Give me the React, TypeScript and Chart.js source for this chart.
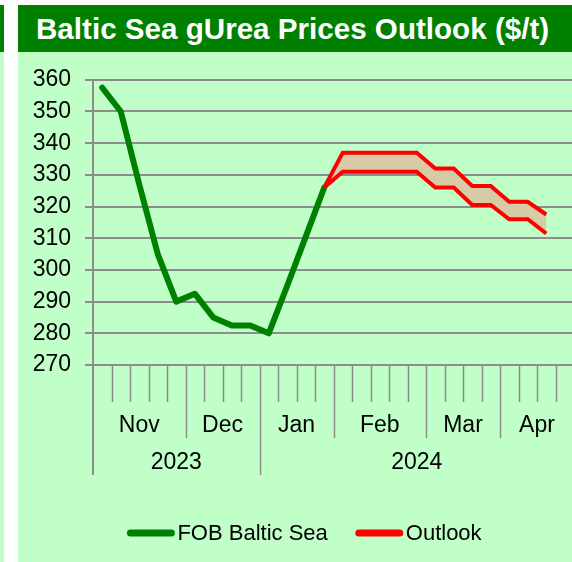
import React, { useEffect, useRef } from "react";
import { Chart, registerables } from "chart.js";

Chart.register(...registerables);

const titleText = "Baltic Sea gUrea Prices Outlook ($/t)";
const months = ["Nov", "Dec", "Jan", "Feb", "Mar", "Apr"];
const weeksPerMonth = [5, 4, 4, 5, 4, 4];
const years = ["2023", "2024"];
const monthsPerYear = [2, 4];
const yTicks = [270, 280, 290, 300, 310, 320, 330, 340, 350, 360];

const fobLabel = "FOB Baltic Sea";
const outlookLabel = "Outlook";

const fobValues = [
  357.5, 350, 327, 305, 290, 292.5, 285, 282.5, 282.5, 280, 295, 310.5, 326,
  null, null, null, null, null, null, null, null, null, null, null, null, null,
];
const outlookHigh = [
  null, null, null, null, null, null, null, null, null, null, null, null, 326,
  337, 337, 337, 337, 337, 332, 332, 326.5, 326.5, 321.5, 321.5, 317.5, null,
];
const outlookLow = [
  null, null, null, null, null, null, null, null, null, null, null, null, 326,
  331, 331, 331, 331, 331, 326, 326, 320.5, 320.5, 316, 316, 311.5, null,
];

// build weekly categories from months
const categories: string[] = [];
months.forEach((m, mi) => {
  for (let w = 0; w < weeksPerMonth[mi]; w++) categories.push(m + " W" + (w + 1));
});

const FONT = "'Liberation Sans', Arial, sans-serif";
const GREEN = "#008000";
const RED = "#ff0000";
const GRID = "#8c8c8c";
const PANEL = "rgb(192,255,200)";

const axisPlugin = {
  id: "multiAxis",
  afterDraw(chart: any) {
    const { ctx, chartArea } = chart;
    const x = chart.scales.x;
    const n = categories.length;
    const step = (chartArea.right - chartArea.left) / n;
    const bottom = chartArea.bottom;
    const smallEnd = bottom + 37;
    const monthEnd = bottom + 73;
    const yearEnd = bottom + 110;

    const monthBounds: number[] = [0];
    weeksPerMonth.forEach((w) => monthBounds.push(monthBounds[monthBounds.length - 1] + w));
    const yearBoundsM: number[] = [0];
    monthsPerYear.forEach((c) => yearBoundsM.push(yearBoundsM[yearBoundsM.length - 1] + c));
    const yearBounds = yearBoundsM.map((mi) => monthBounds[mi]);

    const bx = (b: number) => x.getPixelForValue(0) - step / 2 + b * step;

    ctx.save();
    ctx.strokeStyle = GRID;
    ctx.lineWidth = 1.5;
    for (let b = 1; b <= n; b++) {
      let end = smallEnd;
      if (yearBounds.includes(b)) end = yearEnd;
      else if (monthBounds.includes(b)) end = monthEnd;
      const px = Math.round(bx(b)) + 0.5;
      ctx.beginPath();
      ctx.moveTo(px, bottom);
      ctx.lineTo(px, end);
      ctx.stroke();
    }
    ctx.lineWidth = 2;
    ctx.beginPath();
    ctx.moveTo(chartArea.left, bottom);
    ctx.lineTo(chartArea.left, yearEnd);
    ctx.stroke();

    ctx.fillStyle = "#000";
    ctx.font = "23px " + FONT;
    ctx.textAlign = "center";
    ctx.textBaseline = "alphabetic";
    months.forEach((m, mi) => {
      const c = (bx(monthBounds[mi]) + bx(monthBounds[mi + 1])) / 2;
      ctx.fillText(m, c, bottom + 67);
    });
    years.forEach((yv, yi) => {
      const c = (bx(yearBounds[yi]) + bx(yearBounds[yi + 1])) / 2;
      ctx.fillText(yv, c, bottom + 103.5);
    });

    // legend
    const items = [
      { label: fobLabel, color: GREEN },
      { label: outlookLabel, color: RED },
    ];
    ctx.font = "22px " + FONT;
    const lineLen = 47;
    const gapText = 3;
    const gapItem = 28;
    const widths = items.map((it) => lineLen + gapText + ctx.measureText(it.label).width);
    const total = widths.reduce((a, b) => a + b, 0) + gapItem * (items.length - 1);
    const centerX = 286.5;
    const ly = 481;
    let lx = centerX - total / 2;
    ctx.textAlign = "left";
    ctx.textBaseline = "middle";
    items.forEach((it, i) => {
      ctx.strokeStyle = it.color;
      ctx.lineWidth = 7;
      ctx.lineCap = "round";
      ctx.beginPath();
      ctx.moveTo(lx + 3, ly);
      ctx.lineTo(lx + lineLen - 3, ly);
      ctx.stroke();
      ctx.fillStyle = "#000";
      ctx.fillText(it.label, lx + lineLen + gapText, ly + 1);
      lx += widths[i] + gapItem;
    });
    ctx.restore();
  },
};

export default function App() {
  const ref = useRef<HTMLCanvasElement | null>(null);

  useEffect(() => {
    if (!ref.current) return;
    const chart = new Chart(ref.current, {
      type: "line",
      data: {
        labels: categories,
        datasets: [
          {
            label: fobLabel,
            data: fobValues,
            borderColor: GREEN,
            borderWidth: 6,
            pointRadius: 0,
            borderJoinStyle: "round",
            borderCapStyle: "round",
            fill: false,
            order: 2,
          },
          {
            label: outlookLabel,
            data: outlookHigh,
            borderColor: RED,
            borderWidth: 4,
            pointRadius: 0,
            borderJoinStyle: "miter",
            borderCapStyle: "butt",
            backgroundColor: "rgb(215,203,166)",
            fill: "+1",
            order: 1,
          },
          {
            label: outlookLabel + " (low)",
            data: outlookLow,
            borderColor: RED,
            borderWidth: 4,
            pointRadius: 0,
            borderJoinStyle: "miter",
            borderCapStyle: "butt",
            fill: false,
            order: 0,
          },
        ],
      },
      options: {
        responsive: false,
        animation: false,
        devicePixelRatio: 1,
        layout: { padding: { top: 25, right: 4, left: 0, bottom: 0 } },
        plugins: {
          legend: { display: false },
          title: { display: false },
          tooltip: { enabled: false },
        },
        scales: {
          x: {
            type: "category",
            offset: true,
            grid: { display: false },
            border: { display: false },
            ticks: { display: false },
            afterFit: (s: any) => {
              s.height = 197;
            },
          },
          y: {
            min: 270,
            max: 360,
            afterBuildTicks: (s: any) => {
              s.ticks = yTicks.map((v) => ({ value: v }));
            },
            grid: { color: GRID, lineWidth: 2, tickLength: 8, drawTicks: true },
            border: { display: true, color: GRID, width: 2 },
            ticks: {
              color: "#000",
              padding: 14,
              font: { family: FONT, size: 23 },
            },
            afterFit: (s: any) => {
              s.width = 75;
            },
          },
        },
      },
      plugins: [axisPlugin],
    });
    return () => chart.destroy();
  }, []);

  return (
    <div
      style={{
        position: "absolute",
        left: 0,
        top: 0,
        width: 572,
        height: 562,
        overflow: "hidden",
        background: "#fff",
      }}
    >
      <div style={{ position: "absolute", left: 0, top: 5, width: 4, height: 47, background: GREEN }} />
      <div style={{ position: "absolute", left: 0, top: 52, width: 4, height: 510, background: PANEL }} />
      <div style={{ position: "absolute", left: 18, top: 52, width: 554, height: 510, background: PANEL }} />
      <div
        style={{
          position: "absolute",
          left: 18,
          top: 5,
          width: 560,
          height: 47,
          background: GREEN,
          color: "#fff",
          fontFamily: FONT,
          fontWeight: "bold",
          fontSize: 29.6,
          lineHeight: "47px",
          whiteSpace: "nowrap",
          boxSizing: "border-box",
          paddingLeft: 18,
        }}
      >
        {titleText}
      </div>
      <canvas
        ref={ref}
        width={560}
        height={510}
        style={{ position: "absolute", left: 18, top: 52, width: 560, height: 510 }}
      />
    </div>
  );
}
